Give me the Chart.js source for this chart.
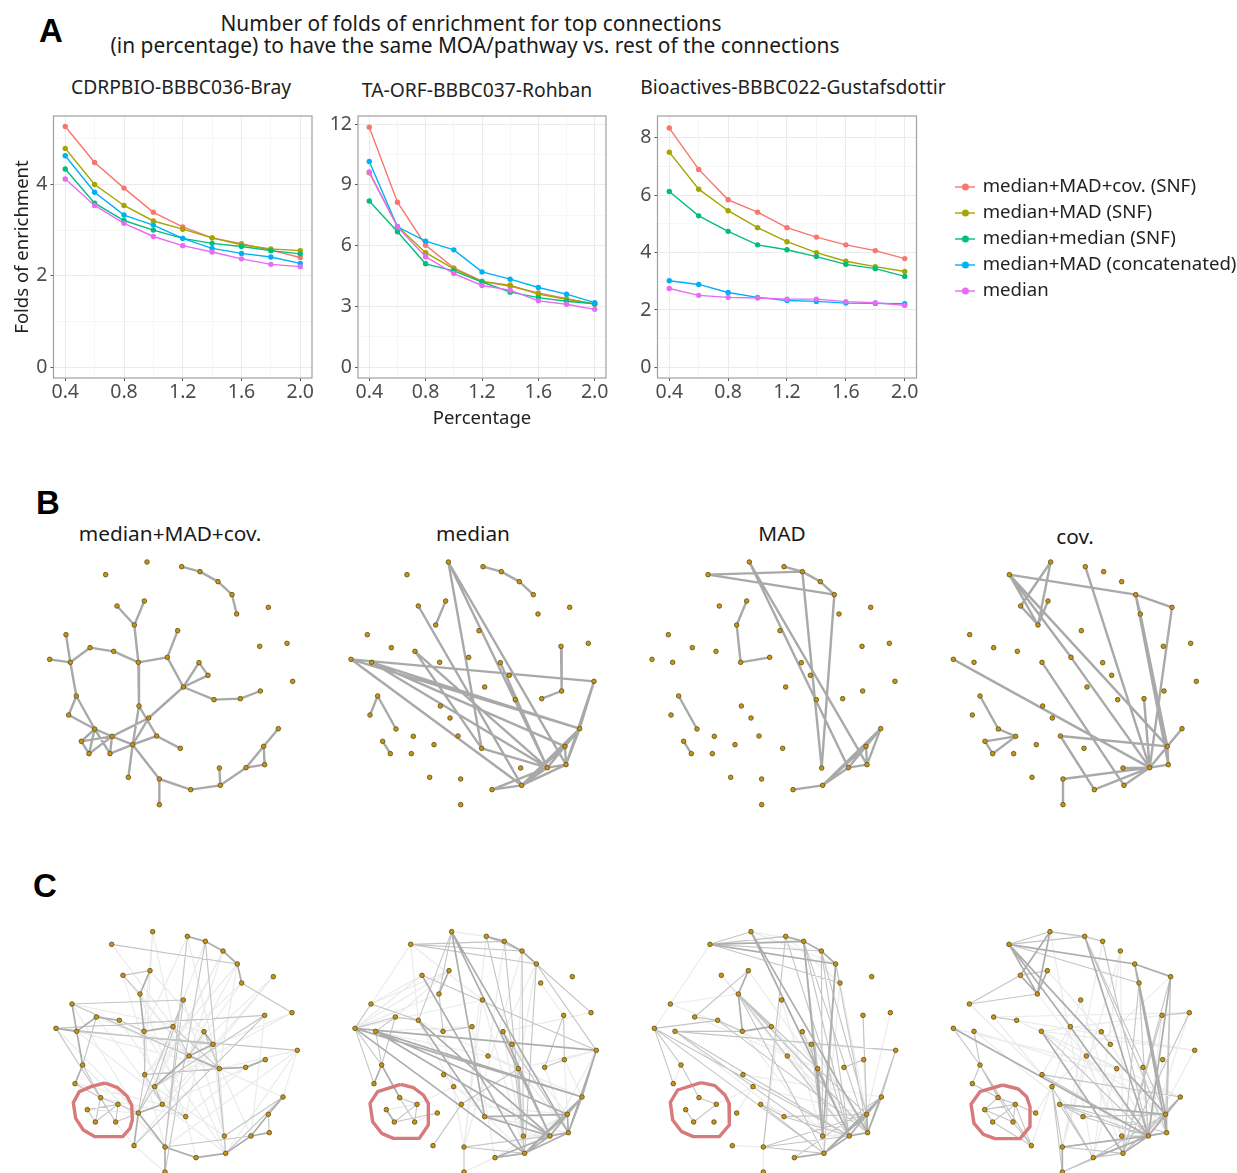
<!DOCTYPE html>
<html>
<head>
<meta charset="utf-8">
<title>Folds of enrichment</title>
<script src="https://cdn.jsdelivr.net/npm/chart.js@4/dist/chart.umd.min.js"></script>
<style>
    html, body { margin: 0; padding: 0; background: #fff; }
    body { position: relative; width: 1237px; height: 1173px; overflow: hidden; font-family: "Noto Sans", sans-serif; color: #1a1a1a; filter: blur(0.35px); }
    canvas { position: absolute; }
    .label { position: absolute; white-space: nowrap; transform: translate(-50%, -50%); line-height: 1; }
    .letter { font-family: "Liberation Sans", sans-serif; font-weight: bold; font-size: 33px; color: #000; }
    .title { font-size: 20.9px; }
    .sub { font-size: 19.3px; color: #222; }
    .net { font-size: 20.8px; }
</style>
</head>
<body>
<div class="label letter" style="left:51px;top:30px">A</div>
<div class="label letter" style="left:48px;top:502px">B</div>
<div class="label letter" style="left:45px;top:885px">C</div>
<div class="label title" style="left:471px;top:23px">Number of folds of enrichment for top connections</div>
<div class="label title" style="left:475px;top:45px">(in percentage) to have the same MOA/pathway vs. rest of the connections</div>
<div class="label sub" style="left:181px;top:87px">CDRPBIO-BBBC036-Bray</div>
<div class="label sub" style="left:477px;top:90px">TA-ORF-BBBC037-Rohban</div>
<div class="label sub" style="left:793px;top:87px">Bioactives-BBBC022-Gustafsdottir</div>
<div class="label net" style="left:170px;top:533px">median+MAD+cov.</div>
<div class="label net" style="left:473px;top:533px">median</div>
<div class="label net" style="left:782px;top:533px">MAD</div>
<div class="label net" style="left:1075px;top:536px">cov.</div>

<canvas id="lineBray" style="left:0;top:100px" width="330" height="340"></canvas>
<canvas id="lineRohban" style="left:330px;top:100px" width="290" height="340"></canvas>
<canvas id="lineGustafsdottir" style="left:620px;top:100px" width="310" height="340"></canvas>
<canvas id="legendBox" style="left:950px;top:169px" width="584" height="140"></canvas>

<canvas id="netB1" style="left:30px;top:540px" width="290" height="280"></canvas>
<canvas id="netB2" style="left:330px;top:540px" width="290" height="280"></canvas>
<canvas id="netB3" style="left:630px;top:540px" width="290" height="280"></canvas>
<canvas id="netB4" style="left:930px;top:540px" width="290" height="280"></canvas>
<canvas id="netC1" style="left:30px;top:920px" width="290" height="253"></canvas>
<canvas id="netC2" style="left:330px;top:920px" width="290" height="253"></canvas>
<canvas id="netC3" style="left:630px;top:920px" width="290" height="253"></canvas>
<canvas id="netC4" style="left:930px;top:920px" width="290" height="253"></canvas>

<script>
// Line chart data
const percentages = [0.4, 0.6, 0.8, 1.0, 1.2, 1.4, 1.6, 1.8, 2.0];
const seriesNames = ['median+MAD+cov. (SNF)', 'median+MAD (SNF)', 'median+median (SNF)', 'median+MAD (concatenated)', 'median'];
const seriesColors = ['#F8766D', '#A3A500', '#00BF7D', '#00B0F6', '#E76BF3'];

const brayValues = [
    [5.27, 4.48, 3.92, 3.39, 3.07, 2.83, 2.70, 2.56, 2.40],
    [4.79, 4.00, 3.54, 3.20, 3.02, 2.83, 2.68, 2.59, 2.55],
    [4.34, 3.59, 3.21, 3.00, 2.82, 2.71, 2.64, 2.55, 2.48],
    [4.63, 3.83, 3.33, 3.11, 2.82, 2.60, 2.49, 2.41, 2.27],
    [4.12, 3.54, 3.15, 2.86, 2.66, 2.52, 2.37, 2.25, 2.20],
];
const rohbanValues = [
    [11.85, 8.14, 6.02, 4.90, 4.24, 3.99, 3.66, 3.38, 3.10],
    [9.60, 6.95, 5.65, 4.85, 4.22, 4.05, 3.60, 3.35, 3.12],
    [8.20, 6.68, 5.10, 4.75, 4.20, 3.70, 3.43, 3.25, 3.13],
    [10.15, 6.93, 6.22, 5.79, 4.70, 4.34, 3.93, 3.60, 3.18],
    [9.64, 6.93, 5.45, 4.62, 4.03, 3.80, 3.27, 3.10, 2.85],
];
const gustafsdottirValues = [
    [8.34, 6.90, 5.84, 5.41, 4.87, 4.54, 4.27, 4.07, 3.79],
    [7.50, 6.21, 5.46, 4.87, 4.38, 4.00, 3.70, 3.51, 3.34],
    [6.13, 5.28, 4.74, 4.27, 4.10, 3.86, 3.59, 3.44, 3.17],
    [3.02, 2.89, 2.61, 2.44, 2.33, 2.30, 2.24, 2.23, 2.22],
    [2.75, 2.51, 2.44, 2.42, 2.38, 2.38, 2.29, 2.25, 2.16],
];

const xGridValues = [0.4, 0.6, 0.8, 1.0, 1.2, 1.4, 1.6, 1.8, 2.0];
const xLabelValues = [0.4, 0.8, 1.2, 1.6, 2.0];
const brayGrid = [0, 1, 2, 3, 4, 5];
const brayLabels = [0, 2, 4];
const rohbanGrid = [0, 1.5, 3, 4.5, 6, 7.5, 9, 10.5, 12];
const rohbanLabels = [0, 3, 6, 9, 12];
const gustafsdottirGrid = [0, 1, 2, 3, 4, 5, 6, 7, 8];
const gustafsdottirLabels = [0, 2, 4, 6, 8];

// Network node layout, panel B and panel C
const nodeXB = [227, 351, 455, 510, 564, 606, 620, 715, 771, 689, 788, 691, 631, 552, 460, 534, 507, 412, 443, 343, 261, 313, 325, 251, 180, 108, 59, 121, 139, 116, 194, 154, 177, 240, 246, 308, 327, 356, 380, 451, 295, 388, 388, 482, 571, 568, 648, 704, 701, 745];
const nodeYB = [104, 66, 80, 95, 125, 164, 222, 202, 310, 319, 424, 453, 476, 479, 441, 406, 368, 352, 272, 183, 198, 255, 367, 334, 323, 284, 358, 367, 468, 525, 567, 604, 641, 641, 589, 614, 498, 534, 588, 625, 712, 717, 794, 749, 736, 684, 683, 674, 619, 566];
const nodeXC = [245, 368, 472, 526, 579, 622, 635, 730, 786, 704, 802, 706, 647, 568, 477, 549, 522, 429, 460, 360, 279, 330, 342, 268, 199, 126, 78, 140, 158, 135, 212, 172, 196, 257, 264, 325, 344, 374, 397, 467, 312, 405, 405, 498, 587, 583, 663, 718, 715, 759];
const nodeYC = [73, 35, 49, 64, 93, 132, 189, 170, 278, 286, 391, 419, 442, 446, 408, 373, 335, 320, 240, 152, 166, 222, 334, 301, 291, 252, 325, 334, 435, 491, 533, 569, 606, 606, 553, 579, 464, 500, 553, 590, 677, 681, 756, 713, 700, 648, 648, 638, 583, 531];

// Edges of panel B, as node index pairs
const edgesB1 = [[2,3],[3,4],[4,5],[5,6],[19,21],[20,21],[21,22],[22,23],[23,24],[24,27],[25,27],[26,27],[27,28],[28,29],[28,30],[29,30],[30,31],[30,32],[30,33],[30,34],[34,35],[31,34],[32,34],[33,34],[33,35],[31,32],[22,36],[22,17],[17,18],[17,14],[14,16],[14,15],[15,16],[14,13],[13,12],[12,11],[14,37],[37,34],[37,35],[36,35],[36,38],[35,38],[38,39],[35,40],[35,41],[41,42],[41,43],[43,44],[44,45],[44,46],[46,47],[46,48],[47,48],[48,49]];
const edgesB2 = [[2,3],[3,4],[4,5],[19,21],[28,29],[28,30],[31,32],[9,11],[11,12],[1,39],[1,46],[1,47],[20,44],[26,10],[26,49],[27,49],[26,44],[27,46],[27,48],[23,46],[23,39],[39,46],[16,46],[44,46],[44,48],[44,49],[46,48],[46,49],[46,47],[47,48],[47,49],[48,49],[10,49],[10,47],[43,44],[43,46],[44,47]];
const edgesB3 = [[0,3],[0,5],[2,3],[3,4],[4,5],[3,45],[5,45],[1,46],[1,47],[19,21],[21,22],[22,17],[28,30],[31,32],[43,44],[44,46],[44,48],[44,49],[46,47],[46,48],[46,49],[47,48],[47,49],[48,49]];
const edgesB4 = [[0,5],[5,7],[0,21],[0,48],[0,17],[17,46],[1,20],[1,21],[19,21],[20,21],[2,46],[5,48],[5,47],[6,48],[5,6],[7,46],[12,46],[22,44],[26,46],[38,48],[38,43],[41,46],[41,42],[43,46],[44,46],[45,46],[46,47],[46,48],[46,49],[47,48],[48,49],[28,30],[30,34],[31,34],[31,32],[32,34]];

// Edges of panel C, three strengths per panel
const heavyC1 = [[2,3],[3,4],[4,5],[5,6],[19,21],[21,22],[24,27],[25,27],[26,27],[27,28],[28,29],[22,17],[14,15],[14,13],[13,12],[12,11],[14,37],[35,38],[35,41],[41,42],[41,43],[43,44],[44,46],[46,47],[46,48],[48,49],[35,40],[23,24],[15,16]];
const midC1 = [[0,5],[3,42],[2,41],[3,44],[18,41],[18,35],[18,37],[25,18],[26,9],[26,15],[27,10],[20,19],[20,21],[25,14],[36,13],[16,13],[6,8],[37,9],[9,40],[17,13],[38,39],[45,49],[44,49],[41,46],[24,28],[22,23],[22,36],[28,30],[30,34],[34,35],[31,34],[31,32],[32,34],[30,32],[33,34],[33,35],[37,35],[36,35],[36,38],[37,38],[44,45],[47,48],[17,14],[14,16],[26,33],[30,33],[29,30]];
const faintC1 = [[25,13],[25,16],[23,13],[20,14],[1,17],[1,36],[2,15],[4,35],[5,36],[7,40],[8,37],[10,44],[10,41],[12,39],[11,38],[13,44],[15,44],[16,39],[17,44],[18,45],[20,38],[21,39],[22,44],[24,38],[26,35],[27,39],[28,41],[29,38],[30,39],[31,35],[33,40],[36,41],[40,42],[37,45],[38,44],[39,43],[9,46],[7,38],[6,36],[5,38],[8,14],[10,13],[25,35],[24,14],[21,14],[19,16],[1,22],[3,17],[4,14],[6,14],[7,37],[10,49],[2,22],[4,37],[5,13],[23,39],[27,13],[0,17],[16,46],[13,49]];

const heavyC2 = [[2,3],[3,4],[4,5],[19,21],[1,39],[1,46],[1,47],[20,44],[26,10],[26,49],[27,49],[26,44],[27,46],[27,48],[23,46],[23,39],[39,46],[39,48],[16,46],[44,46],[44,48],[44,49],[46,48],[46,49],[46,47],[47,48],[47,49],[48,49],[10,49],[10,47],[43,44],[43,46],[44,47],[28,29],[28,30],[31,32]];
const midC2 = [[0,3],[0,4],[0,5],[1,23],[1,21],[2,4],[21,22],[22,17],[25,23],[23,24],[24,27],[24,28],[26,24],[26,25],[26,28],[26,29],[27,28],[30,34],[30,33],[32,34],[32,35],[33,34],[38,40],[38,13],[9,11],[9,12],[11,12],[5,10],[5,8],[20,10],[3,45],[4,45],[2,15],[5,44],[41,42],[41,46],[41,44],[13,45],[15,44],[16,47]];
const faintC2 = [[25,20],[25,19],[26,20],[26,21],[26,18],[26,19],[27,14],[27,17],[0,25],[0,23],[1,2],[3,14],[4,13],[5,16],[6,9],[8,16],[10,13],[10,11],[10,46],[13,47],[15,48],[16,44],[17,43],[18,41],[18,44],[22,41],[23,38],[36,44],[37,46],[38,48],[39,47],[41,47],[42,43],[43,48],[45,46],[45,47],[45,48],[14,49],[12,47],[11,47],[11,49],[4,41],[2,41],[0,18],[24,19],[23,13],[34,37],[31,34],[33,35],[5,13]];

const heavyC3 = [[0,3],[0,5],[2,3],[3,4],[4,5],[3,45],[5,45],[1,46],[1,47],[19,21],[21,22],[22,17],[44,46],[44,48],[44,49],[46,47],[46,48],[46,49],[47,48],[47,49],[48,49],[43,44],[13,45]];
const midC3 = [[0,2],[0,4],[0,1],[2,46],[3,46],[3,47],[4,45],[4,46],[4,48],[5,44],[5,47],[1,13],[3,13],[13,46],[16,46],[15,45],[21,17],[21,46],[21,47],[21,48],[21,44],[24,19],[23,24],[23,22],[23,47],[27,22],[27,10],[27,45],[27,46],[26,23],[26,28],[26,29],[26,44],[26,46],[38,44],[38,39],[39,46],[39,48],[41,44],[41,46],[41,48],[43,49],[2,41],[28,30],[30,34],[32,34],[31,32],[0,6],[49,10],[10,47],[9,48],[12,11]];
const faintC3 = [[0,25],[25,22],[1,3],[1,5],[2,6],[5,6],[6,48],[6,44],[8,48],[10,15],[14,46],[14,47],[15,47],[16,47],[17,46],[17,47],[18,45],[18,41],[20,46],[20,47],[22,45],[26,25],[27,39],[28,29],[36,49],[37,48],[38,46],[40,41],[35,37],[34,37],[42,41],[44,45],[45,46],[45,47],[45,48],[11,47],[9,47],[20,14],[19,13],[24,14],[23,13],[25,21]];

const heavyC4 = [[0,5],[5,7],[0,21],[0,48],[0,17],[17,46],[1,20],[1,21],[19,21],[20,21],[2,46],[5,48],[5,47],[6,48],[5,6],[7,46],[22,44],[26,46],[38,48],[41,46],[41,42],[43,46],[44,46],[46,47],[46,48],[46,49],[47,48],[48,49]];
const midC4 = [[0,1],[0,2],[0,6],[1,2],[2,3],[2,47],[2,48],[3,46],[6,44],[6,46],[6,47],[7,44],[7,48],[7,47],[8,44],[9,8],[9,44],[12,46],[20,19],[25,20],[25,21],[24,23],[16,15],[27,28],[26,28],[28,29],[28,33],[28,40],[29,30],[30,31],[31,33],[32,40],[33,34],[33,40],[34,35],[34,40],[36,46],[36,49],[37,41],[37,42],[37,43],[38,43],[38,46],[38,47],[38,39],[39,46],[39,48],[41,44],[41,47],[42,43],[42,46],[43,44],[43,48],[44,48],[44,49],[45,46],[28,30],[30,34],[31,34],[31,32],[32,34],[22,46]];
const faintC4 = [[22,10],[22,48],[27,49],[23,10],[23,49],[24,8],[25,36],[17,45],[18,45],[13,43],[14,44],[15,47],[10,46],[11,46],[8,46],[9,46],[37,7],[36,17],[35,37],[1,43],[4,43],[4,41],[3,41],[19,16],[27,39],[24,36],[22,13],[17,16],[13,46],[14,41],[21,46],[22,9],[26,13],[1,3],[4,44],[18,40]];

// Red outlines in panel C
const hullC1X = [225, 263, 290, 305, 307, 300, 278, 195, 160, 137, 130, 148, 185, 225];
const hullC1Y = [489, 503, 527, 555, 600, 625, 650, 650, 630, 595, 548, 515, 499, 489];
const hullC2X = [212, 250, 280, 295, 295, 268, 190, 155, 128, 120, 143, 212];
const hullC2Y = [493, 503, 525, 550, 615, 655, 655, 640, 605, 550, 515, 493];
const hullC3X = [213, 255, 285, 297, 298, 268, 190, 155, 128, 121, 143, 213];
const hullC3Y = [488, 497, 525, 550, 615, 650, 650, 635, 600, 547, 510, 488];
const hullC4X = [218, 265, 290, 300, 300, 270, 195, 160, 132, 123, 150, 218];
const hullC4Y = [495, 507, 530, 560, 620, 656, 656, 643, 610, 553, 515, 495];

const tickFont = { family: '"Noto Sans", sans-serif', size: 19.5 };

// ggplot style box around each plot area
const panelBorder = {
    id: 'panelBorder',
    afterDatasetsDraw(chart) {
        const { ctx, chartArea: a } = chart;
        ctx.save();
        ctx.strokeStyle = '#a0a0a0';
        ctx.lineWidth = 1.2;
        ctx.strokeRect(a.left, a.top, a.right - a.left, a.bottom - a.top);
        ctx.restore();
    },
};

function createLineChart(id, values, frame) {
    return new Chart(document.getElementById(id), {
        type: 'line',
        data: {
            datasets: values.map((vals, i) => ({
                label: seriesNames[i],
                data: percentages.map((p, j) => ({ x: p, y: vals[j] })),
                borderColor: seriesColors[i],
                backgroundColor: seriesColors[i],
                borderWidth: 1.4,
                pointRadius: 2.7,
                pointBorderWidth: 0,
                tension: 0,
                order: values.length - i,
            })),
        },
        options: {
            responsive: false,
            animation: false,
            layout: { autoPadding: false, padding: { top: 16, right: frame.right, left: 0, bottom: 0 } },
            plugins: { legend: { display: false }, tooltip: { enabled: false } },
            scales: {
                x: {
                    type: 'linear',
                    min: 0.32,
                    max: 2.08,
                    afterBuildTicks: axis => { axis.ticks = xGridValues.map(v => ({ value: v })); },
                    afterFit: axis => { axis.height = 62; },
                    ticks: {
                        autoSkip: false,
                        maxRotation: 0,
                        font: tickFont,
                        color: '#4d4d4d',
                        padding: 0,
                        callback: v => (xLabelValues.some(t => Math.abs(t - v) < 1e-6) ? v.toFixed(1) : ''),
                    },
                    grid: {
                        color: ctx => (xLabelValues.some(t => Math.abs(t - ctx.tick.value) < 1e-6) ? '#ebebeb' : '#f6f6f6'),
                        tickColor: ctx => (xLabelValues.some(t => Math.abs(t - ctx.tick.value) < 1e-6) ? '#555' : 'rgba(0,0,0,0)'),
                        tickLength: 3,
                    },
                    border: { display: false },
                    title: { display: !!frame.xTitle, text: frame.xTitle || '', font: { family: tickFont.family, size: 18.5 }, color: '#222', padding: { top: 0, bottom: 10 } },
                },
                y: {
                    min: frame.yMin,
                    max: frame.yMax,
                    afterBuildTicks: axis => { axis.ticks = frame.grid.map(v => ({ value: v })); },
                    afterFit: axis => { axis.width = frame.axisWidth; },
                    ticks: {
                        autoSkip: false,
                        font: tickFont,
                        color: '#4d4d4d',
                        padding: 3,
                        callback: v => (frame.labels.includes(v) ? String(v) : ''),
                    },
                    grid: {
                        color: ctx => (frame.labels.includes(ctx.tick.value) ? '#ebebeb' : '#f6f6f6'),
                        tickColor: ctx => (frame.labels.includes(ctx.tick.value) ? '#555' : 'rgba(0,0,0,0)'),
                        tickLength: 3,
                    },
                    border: { display: false },
                    title: { display: !!frame.yTitle, text: frame.yTitle || '', font: { family: tickFont.family, size: 18.5 }, color: '#222', padding: { top: 12, bottom: 0 } },
                },
            },
        },
        plugins: [panelBorder],
    });
}

createLineChart('lineBray', brayValues, { right: 18, axisWidth: 53.5, yMin: -0.24, yMax: 5.5, grid: brayGrid, labels: brayLabels, yTitle: 'Folds of enrichment' });
createLineChart('lineRohban', rohbanValues, { right: 14, axisWidth: 28, yMin: -0.54, yMax: 12.4, grid: rohbanGrid, labels: rohbanLabels, xTitle: 'Percentage' });
createLineChart('lineGustafsdottir', gustafsdottirValues, { right: 13.5, axisWidth: 37.5, yMin: -0.37, yMax: 8.76, grid: gustafsdottirGrid, labels: gustafsdottirLabels });

// Legend key: short line with a dot on it
function legendKey(color) {
    const c = document.createElement('canvas');
    c.width = 20;
    c.height = 10;
    const g = c.getContext('2d');
    g.strokeStyle = color;
    g.fillStyle = color;
    g.lineWidth = 1.4;
    g.beginPath();
    g.moveTo(0, 5);
    g.lineTo(20, 5);
    g.stroke();
    g.beginPath();
    g.arc(10, 5, 3.5, 0, Math.PI * 2);
    g.fill();
    return c;
}

new Chart(document.getElementById('legendBox'), {
    type: 'line',
    data: {
        datasets: seriesNames.map((name, i) => ({
            label: name,
            data: [],
            borderColor: seriesColors[i],
            backgroundColor: seriesColors[i],
            pointStyle: legendKey(seriesColors[i]),
        })),
    },
    options: {
        responsive: false,
        animation: false,
        scales: { x: { display: false }, y: { display: false } },
        plugins: {
            tooltip: { enabled: false },
            legend: {
                position: 'left',
                labels: {
                    usePointStyle: true,
                    boxWidth: 16,
                    boxHeight: 18,
                    padding: 7.4,
                    color: '#222',
                    font: { family: tickFont.family, size: 18.6 },
                },
            },
        },
    },
});

function edgePoints(edges, xs, ys) {
    const pts = [];
    edges.forEach(([a, b]) => {
        pts.push({ x: xs[a], y: ys[a] }, { x: xs[b], y: ys[b] }, { x: NaN, y: NaN });
    });
    return pts;
}

function edgeDataset(edges, xs, ys, color, width) {
    return {
        data: edgePoints(edges, xs, ys),
        showLine: true,
        spanGaps: false,
        borderColor: color,
        borderWidth: width,
        pointRadius: 0,
        borderCapStyle: 'round',
    };
}

// shift: how far this panel's layout sits to the right, in layout units
function createNetwork(id, xs, ys, shift, yRange, tiers, hullX, hullY) {
    const datasets = [{
        data: xs.map((x, i) => ({ x, y: ys[i] })),
        pointRadius: 2.3,
        pointBackgroundColor: '#c9950f',
        pointBorderColor: '#5c4a1e',
        pointBorderWidth: 0.8,
    }];
    if (hullX) {
        datasets.push({
            data: hullX.map((x, i) => ({ x: x - shift, y: hullY[i] })),
            showLine: true,
            borderColor: '#d67a7c',
            borderWidth: 3.4,
            borderJoinStyle: 'round',
            pointRadius: 0,
        });
    }
    tiers.forEach(t => datasets.push(edgeDataset(t.edges, xs, ys, t.color, t.width)));
    return new Chart(document.getElementById(id), {
        type: 'scatter',
        data: { datasets },
        options: {
            responsive: false,
            animation: false,
            layout: { autoPadding: false },
            plugins: { legend: { display: false }, tooltip: { enabled: false } },
            scales: {
                x: { display: false, min: -shift, max: 870 - shift },
                y: { display: false, min: 0, max: yRange, reverse: true },
            },
        },
    });
}

const bTier = edges => [{ edges, color: '#a9a9a9', width: 2.4 }];
createNetwork('netB1', nodeXB, nodeYB, 0, 840, bTier(edgesB1));
createNetwork('netB2', nodeXB, nodeYB, 4, 840, bTier(edgesB2));
createNetwork('netB3', nodeXB, nodeYB, 7, 840, bTier(edgesB3));
createNetwork('netB4', nodeXB, nodeYB, 11, 840, bTier(edgesB4));

const cTier = (heavy, mid, faint) => [
    { edges: heavy, color: '#adadad', width: 1.7 },
    { edges: mid, color: '#c4c4c4', width: 1.1 },
    { edges: faint, color: '#ebebeb', width: 1.2 },
];
createNetwork('netC1', nodeXC, nodeYC, 0, 759, cTier(heavyC1, midC1, faintC1), hullC1X, hullC1Y);
createNetwork('netC2', nodeXC, nodeYC, -3, 759, cTier(heavyC2, midC2, faintC2), hullC2X, hullC2Y);
createNetwork('netC3', nodeXC, nodeYC, -5, 759, cTier(heavyC3, midC3, faintC3), hullC3X, hullC3Y);
createNetwork('netC4', nodeXC, nodeYC, -8, 759, cTier(heavyC4, midC4, faintC4), hullC4X, hullC4Y);
</script>
</body>
</html>
